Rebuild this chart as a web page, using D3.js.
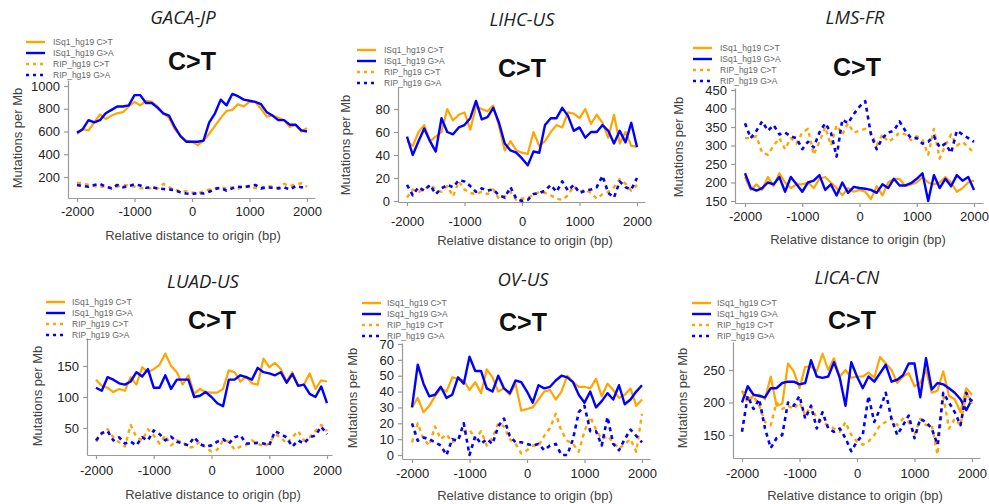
<!DOCTYPE html>
<html>
<head>
<meta charset="utf-8">
<script src="https://cdn.jsdelivr.net/npm/d3@7"></script>
<style>
  body { margin: 0; background: #fff; }
  svg { display: block; }
  text { font-family: "Liberation Sans", Arial, Helvetica, sans-serif; }
</style>
</head>
<body>
<svg id="chart" width="989" height="504"></svg>
<script>
// x categories: distance to origin (bp)
const positions = [-2000, -1900, -1800, -1700, -1600, -1500, -1400, -1300, -1200, -1100,
  -1000, -900, -800, -700, -600, -500, -400, -300, -200, -100,
  0, 100, 200, 300, 400, 500, 600, 700, 800, 900,
  1000, 1100, 1200, 1300, 1400, 1500, 1600, 1700, 1800, 1900, 2000];
const xTicks = [-2000, -1000, 0, 1000, 2000];
const seriesNames = ["ISq1_hg19 C>T", "ISq1_hg19 G>A", "RIP_hg19 C>T", "RIP_hg19 G>A"];

// GACA-JP
const gacaIsqCT = [580,620,610,680,750,710,740,760,770,820,860,830,870,860,820,760,720,620,560,520,510,480,520,580,650,720,780,790,840,820,860,860,800,730,740,720,700,640,660,600,630];
const gacaIsqGA = [590,620,700,680,700,760,790,820,820,830,920,920,850,850,810,760,740,640,560,510,510,510,520,680,760,880,830,930,910,880,870,860,840,770,740,700,700,660,660,610,600];
const gacaRipCT = [150,145,130,120,110,120,105,115,130,125,115,100,105,100,95,140,110,90,70,75,65,55,75,90,100,110,100,110,95,120,110,105,100,125,115,105,140,120,135,145,115];
const gacaRipGA = [130,120,115,130,140,115,100,130,110,120,135,125,105,110,100,95,90,85,65,55,50,60,55,70,95,105,80,100,115,110,120,130,100,110,105,100,110,90,120,110,110];
const gacaTicks = [200, 400, 600, 800, 1000];

// LIHC-US
const lihcIsqCT = [52,48,60,66,52,56,60,80,70,75,77,62,82,80,78,83,65,44,52,44,42,41,60,48,52,60,66,64,77,76,72,80,67,75,68,55,75,50,60,48,47];
const lihcIsqGA = [56,40,52,63,52,43,72,60,58,64,66,72,87,71,73,81,68,50,44,42,37,31,43,42,66,72,72,81,74,61,64,55,60,60,66,61,50,61,51,68,47];
const lihcRipCT = [3,10,8,10,14,10,8,13,4,17,10,7,6,8,6,10,2,4,8,1,2,3,5,8,7,5,2,1,5,13,8,10,7,2,6,8,12,19,15,9,14];
const lihcRipGA = [14,5,12,9,14,6,11,14,12,18,17,13,8,11,9,10,5,3,12,2,0,1,6,7,9,14,8,17,9,14,7,9,10,12,22,7,3,17,12,10,20];
const lihcTicks = [0, 20, 40, 60, 80];

// LMS-FR
const lmsIsqCT = [215,180,195,180,215,190,225,200,185,195,195,200,185,210,215,200,185,165,185,175,180,175,155,190,165,200,210,210,190,195,200,215,200,195,200,215,200,175,185,200,205];
const lmsIsqGA = [225,185,178,185,200,195,215,175,215,195,175,200,205,220,180,195,165,200,172,188,185,183,180,172,195,185,210,192,192,198,210,225,150,220,185,210,190,220,205,215,180];
const lmsRipCT = [320,320,325,280,275,300,320,290,320,305,335,345,275,310,350,300,355,330,360,335,340,345,335,300,330,310,320,335,330,315,325,315,275,345,265,300,330,300,310,295,280];
const lmsRipGA = [360,320,340,365,340,355,330,335,325,320,290,310,295,335,360,335,270,370,360,385,405,420,330,290,320,335,340,365,340,320,320,305,310,325,295,305,280,340,330,320,310];
const lmsTicks = [150, 200, 250, 300, 350, 400, 450];

// LUAD-US
const luadIsqCT = [128,118,115,108,113,110,132,120,148,140,145,152,170,150,140,120,135,105,113,108,107,107,113,143,140,125,133,122,120,162,148,155,145,125,140,118,120,138,113,127,125];
const luadIsqGA = [115,110,132,128,122,120,125,140,133,145,115,115,135,113,128,128,128,100,102,108,100,90,85,128,128,135,132,128,147,140,138,135,140,123,137,118,120,105,100,117,90];
const luadRipCT = [28,40,48,35,27,20,55,35,30,48,38,25,38,22,30,28,18,20,28,18,12,15,30,28,15,20,22,30,25,20,25,40,35,25,35,45,30,35,45,55,45];
const luadRipGA = [30,42,45,30,35,25,28,22,35,30,46,40,30,36,28,25,22,35,24,20,22,28,32,25,35,38,25,25,26,25,22,45,40,35,20,30,25,35,38,52,40];
const luadTicks = [50, 100, 150];

// OV-US
const ovIsqCT = [30,36,27,31,37,42,40,49,48,47,41,46,39,54,49,40,42,38,45,28,29,30,35,40,41,35,40,50,46,43,43,42,48,37,45,41,36,38,42,31,35];
const ovIsqGA = [30,57,45,37,38,43,36,38,49,45,62,53,53,42,40,50,42,39,47,46,40,33,44,42,43,47,50,49,46,38,33,40,30,34,39,35,44,32,35,40,44];
const ovRipCT = [8,20,10,6,18,10,13,8,10,15,16,10,15,6,11,20,18,10,7,1,3,6,6,12,17,26,15,9,7,2,15,24,16,10,12,8,4,7,10,2,26];
const ovRipGA = [20,9,11,10,8,6,0,10,9,20,0,12,7,10,7,18,23,12,8,8,7,6,7,3,6,7,0,0,10,27,31,15,15,6,24,7,3,10,16,12,8];
const ovTicks = [0, 10, 20, 30, 40, 50, 60, 70];

// LICA-CN
const licaIsqCT = [218,205,210,212,205,240,195,198,260,248,222,255,255,248,275,250,268,240,250,238,240,240,246,238,270,260,250,230,240,245,225,230,250,215,218,248,210,205,185,222,212];
const licaIsqGA = [200,225,212,210,208,222,222,230,232,232,228,230,265,240,238,240,262,238,195,262,240,222,240,232,245,258,232,235,242,260,260,208,268,220,230,228,222,215,205,188,205];
const licaRipCT = [218,200,210,195,170,165,200,190,195,190,200,180,195,175,170,165,160,155,170,150,140,135,140,150,165,170,175,165,175,170,150,175,165,165,120,210,160,175,165,215,198];
const licaRipGA = [155,210,190,205,160,130,145,150,200,195,210,175,195,160,185,160,155,160,145,125,140,150,210,170,190,215,175,150,165,180,145,175,170,160,135,215,200,185,165,215,200];
const licaTicks = [150, 200, 250];

// line styles, same order as seriesNames
const styles = [
  { color: "#ffa500", width: 2.2, dash: null },
  { color: "#0000ff", width: 2.4, dash: null },
  { color: "#ffa500", width: 2.4, dash: "4,4" },
  { color: "#0000ff", width: 2.6, dash: "4,4" }
];

// panel layout (pixels): plot scale anchors, axis box, text positions
const panels = [
  { name: "GACA-JP", series: [gacaIsqCT, gacaIsqGA, gacaRipCT, gacaRipGA], ticks: gacaTicks,
    xr: [77, 307], yv: [200, 1000], yr: [177, 86], box: { l: 68, t: 80, b: 198, r: 315 },
    title: [183, 18], legend: [26, 53, 42], cot: [192, 61], ylab: [17, 138], xlab: [193, 235], xgap: 5 },
  { name: "LIHC-US", series: [lihcIsqCT, lihcIsqGA, lihcRipCT, lihcRipGA], ticks: lihcTicks,
    xr: [407, 637], yv: [0, 80], yr: [201, 109], box: { l: 398, t: 87, b: 202, r: 645 },
    title: [522, 20], legend: [357, 384, 50], cot: [522, 68], ylab: [345, 145], xlab: [525, 240], xgap: 11 },
  { name: "LMS-FR", series: [lmsIsqCT, lmsIsqGA, lmsRipCT, lmsRipGA], ticks: lmsTicks,
    xr: [745, 974], yv: [150, 450], yr: [201, 90], box: { l: 735, t: 88, b: 203, r: 983 },
    title: [855, 18], legend: [693, 720, 48], cot: [857, 67], ylab: [678, 147], xlab: [858, 239], xgap: 5 },
  { name: "LUAD-US", series: [luadIsqCT, luadIsqGA, luadRipCT, luadRipGA], ticks: luadTicks,
    xr: [96, 327], yv: [50, 150], yr: [428, 366], box: { l: 87, t: 338, b: 455, r: 332 },
    title: [203, 282], legend: [46, 72, 302], cot: [212, 320], ylab: [37, 396], xlab: [213, 494], xgap: 7 },
  { name: "OV-US", series: [ovIsqCT, ovIsqGA, ovRipCT, ovRipGA], ticks: ovTicks,
    xr: [412, 642], yv: [0, 70], yr: [455, 344], box: { l: 402, t: 343, b: 459, r: 650 },
    title: [523, 280], legend: [362, 387, 303], cot: [523, 322], ylab: [352, 398], xlab: [525, 495], xgap: 6 },
  { name: "LICA-CN", series: [licaIsqCT, licaIsqGA, licaRipCT, licaRipGA], ticks: licaTicks,
    xr: [742, 972], yv: [150, 250], yr: [435, 370], box: { l: 733, t: 342, b: 458, r: 980 },
    title: [847, 278], legend: [692, 717, 303], cot: [852, 320], ylab: [682, 398], xlab: [855, 495], xgap: 7 }
];

const svg = d3.select("#chart");

function drawPanel(p) {
  const g = svg.append("g");

  const x = d3.scaleLinear().domain([-2000, 2000]).range(p.xr);
  const y = d3.scaleLinear().domain(p.yv).range(p.yr);

  // axis scales stretched to the L-shaped box so the domain line covers it
  const xAxisScale = x.copy().domain([x.invert(p.box.l), x.invert(p.box.r)]).range([p.box.l, p.box.r]);
  const yAxisScale = y.copy().domain([y.invert(p.box.b), y.invert(p.box.t)]).range([p.box.b, p.box.t]);

  const xAxis = g.append("g")
    .attr("transform", `translate(0,${p.box.b})`)
    .call(d3.axisBottom(xAxisScale).tickValues(xTicks).tickFormat(d3.format("d"))
      .tickSize(4).tickSizeOuter(0).tickPadding(p.xgap));
  const yAxis = g.append("g")
    .attr("transform", `translate(${p.box.l},0)`)
    .call(d3.axisLeft(yAxisScale).tickValues(p.ticks).tickFormat(d3.format("d"))
      .tickSize(4).tickSizeOuter(0).tickPadding(4));

  [xAxis, yAxis].forEach(a => {
    a.select(".domain").attr("stroke", "#999").attr("stroke-width", 1.2);
    a.selectAll(".tick line").attr("stroke", "#999").attr("stroke-width", 1.2);
    a.selectAll(".tick text").attr("fill", "#222").style("font-size", "13px")
      .text(d => d < 0 ? "-" + Math.abs(d) : d);
  });

  // data lines
  const line = d3.line()
    .x((d, i) => x(positions[i]))
    .y(d => y(d));

  p.series.forEach((values, i) => {
    const s = styles[i];
    g.append("path")
      .datum(values)
      .attr("fill", "none")
      .attr("stroke", s.color)
      .attr("stroke-width", s.width)
      .attr("stroke-linejoin", "round")
      .attr("stroke-dasharray", s.dash)
      .attr("d", line);
  });

  // legend
  const [lx, tx, ly] = p.legend;
  seriesNames.forEach((name, i) => {
    const s = styles[i];
    const yy = ly + i * 11;
    g.append("line")
      .attr("x1", lx).attr("x2", lx + 19)
      .attr("y1", yy).attr("y2", yy)
      .attr("stroke", s.color)
      .attr("stroke-width", 2.4)
      .attr("stroke-dasharray", s.dash ? "3,4" : null);
    g.append("text")
      .attr("x", tx).attr("y", yy)
      .attr("dy", "0.35em")
      .attr("fill", "#666")
      .style("font-size", "8.5px")
      .text(name);
  });

  // titles and labels
  g.append("text")
    .attr("x", p.title[0]).attr("y", p.title[1])
    .attr("dy", "0.35em")
    .attr("text-anchor", "middle")
    .attr("fill", "#222")
    .style("font-family", "'Open Sans', sans-serif")
    .style("font-style", "italic")
    .style("font-size", "18.5px")
    .text(p.name);

  g.append("text")
    .attr("x", p.cot[0]).attr("y", p.cot[1])
    .attr("dy", "0.35em")
    .attr("text-anchor", "middle")
    .attr("fill", "#111")
    .style("font-weight", "bold")
    .style("font-size", "25px")
    .text("C>T");

  g.append("text")
    .attr("transform", `translate(${p.ylab[0]},${p.ylab[1]}) rotate(-90)`)
    .attr("dy", "0.35em")
    .attr("text-anchor", "middle")
    .attr("fill", "#444")
    .style("font-size", "13px")
    .text("Mutations per Mb");

  g.append("text")
    .attr("x", p.xlab[0]).attr("y", p.xlab[1])
    .attr("dy", "0.35em")
    .attr("text-anchor", "middle")
    .attr("fill", "#444")
    .style("font-size", "13px")
    .text("Relative distance to origin (bp)");
}

panels.forEach(drawPanel);
</script>
</body>
</html>
